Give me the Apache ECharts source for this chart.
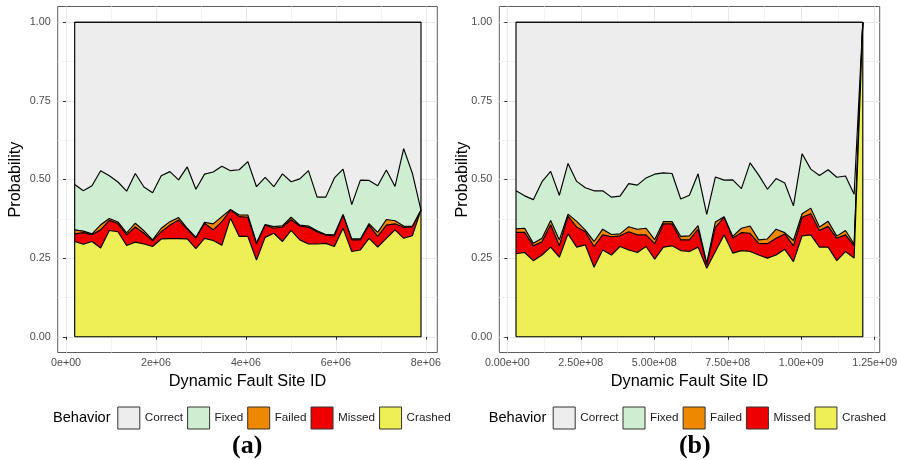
<!DOCTYPE html>
<html><head><meta charset="utf-8">
<script src="https://cdn.jsdelivr.net/npm/echarts@6/dist/echarts.min.js"></script>
<style>html,body{margin:0;padding:0;background:#fff}#c{width:897px;height:460px}</style>
</head><body><div id="c"></div>
<script>
const FONT = '"Liberation Sans", Arial, Helvetica, sans-serif';
const SERIF = '"Liberation Serif", "Times New Roman", serif';
const behaviors = ['Correct', 'Fixed', 'Failed', 'Missed', 'Crashed'];
const fills = {Correct: '#ededed', Fixed: '#cdeed0', Failed: '#ee8800', Missed: '#ee0000', Crashed: '#eeee55'};

// Panel (a)
const xA = [192500,385000,577500,770000,962500,1155000,1347500,1540000,1732500,1925000,2117500,2310000,2502500,2695000,2887500,3080000,3272500,3465000,3657500,3850000,4042500,4235000,4427500,4620000,4812500,5005000,5197500,5390000,5582500,5775000,5967500,6160000,6352500,6545000,6737500,6930000,7122500,7315000,7507500,7700000,7892500];
const crashedA = [0.303,0.294,0.303,0.282,0.338,0.334,0.290,0.301,0.295,0.287,0.311,0.312,0.312,0.311,0.280,0.313,0.306,0.291,0.377,0.319,0.319,0.244,0.316,0.329,0.303,0.338,0.308,0.295,0.295,0.297,0.287,0.345,0.271,0.276,0.313,0.285,0.313,0.340,0.313,0.321,0.403];
const missedA = [0.024,0.037,0.021,0.058,0.032,0.026,0.034,0.048,0.034,0.018,0.023,0.043,0.059,0.031,0.033,0.048,0.034,0.075,0.026,0.063,0.061,0.051,0.039,0.016,0.046,0.034,0.044,0.053,0.039,0.026,0.034,0.042,0.037,0.032,0.042,0.034,0.042,0.019,0.035,0.028,0];
const failedA = [0.013,0.005,0.003,0.016,0.006,0.005,0.006,0.012,0.008,0.003,0.011,0.011,0.008,0.003,0.003,0.003,0.019,0.016,0.002,0.005,0.007,0.004,0.002,0.005,0.004,0.008,0.003,0.004,0.003,0.002,0.005,0.002,0.003,0.003,0.005,0.013,0.018,0.010,0.004,0.002,0];
const fixedA = [0.144,0.128,0.153,0.172,0.136,0.127,0.133,0.158,0.139,0.150,0.167,0.159,0.120,0.195,0.153,0.153,0.165,0.160,0.123,0.144,0.170,0.178,0.150,0.127,0.165,0.113,0.147,0.176,0.107,0.119,0.179,0.144,0.109,0.187,0.137,0.148,0.157,0.109,0.246,0.169,0];
const correctA = [0.516,0.536,0.520,0.472,0.488,0.508,0.537,0.481,0.524,0.542,0.488,0.475,0.501,0.460,0.531,0.483,0.476,0.458,0.472,0.469,0.443,0.523,0.493,0.523,0.482,0.507,0.498,0.472,0.556,0.556,0.495,0.467,0.580,0.502,0.503,0.520,0.470,0.522,0.402,0.480,0.597];

// Panel (b)
const xB = [29500000,59000000,88500000,118000000,147500000,177000000,206500000,236000000,265500000,295000000,324500000,354000000,383500000,413000000,442500000,472000000,501500000,531000000,560500000,590000000,619500000,649000000,678500000,708000000,737500000,767000000,796500000,826000000,855500000,885000000,914500000,944000000,973500000,1003000000,1032500000,1062000000,1091500000,1121000000,1150500000,1180000000,1209500000];
const crashedB = [0.264,0.268,0.242,0.260,0.285,0.253,0.327,0.285,0.292,0.221,0.276,0.260,0.287,0.276,0.268,0.287,0.247,0.285,0.289,0.274,0.271,0.285,0.218,0.271,0.324,0.266,0.274,0.271,0.260,0.250,0.260,0.278,0.239,0.321,0.324,0.285,0.285,0.242,0.271,0.250,1.000];
const missedB = [0.068,0.064,0.047,0.042,0.071,0.036,0.057,0.064,0.042,0.066,0.048,0.058,0.034,0.058,0.056,0.037,0.049,0.074,0.070,0.034,0.037,0.057,0.011,0.077,0.056,0.048,0.057,0.058,0.037,0.046,0.053,0.049,0.050,0.059,0.067,0.053,0.066,0.071,0.053,0.039,0];
const failedB = [0.011,0.013,0.008,0.011,0.014,0.019,0.006,0.018,0.005,0.016,0.018,0.007,0.006,0.016,0.018,0.021,0.013,0.007,0.007,0.011,0.013,0.011,0.005,0.017,0.002,0.005,0.014,0.023,0.011,0.015,0.029,0.004,0.017,0.011,0.018,0.011,0.016,0.007,0.014,0.006,0];
const fixedB = [0.121,0.103,0.139,0.180,0.156,0.142,0.161,0.127,0.135,0.161,0.122,0.119,0.120,0.137,0.140,0.160,0.208,0.155,0.153,0.119,0.129,0.165,0.155,0.143,0.116,0.180,0.126,0.201,0.206,0.158,0.161,0.158,0.110,0.191,0.124,0.164,0.164,0.187,0.173,0.158,0];
const correctB = [0.536,0.552,0.564,0.507,0.474,0.550,0.449,0.506,0.526,0.536,0.536,0.556,0.553,0.513,0.518,0.495,0.483,0.479,0.481,0.562,0.550,0.482,0.611,0.492,0.502,0.501,0.529,0.447,0.486,0.531,0.497,0.511,0.584,0.418,0.467,0.487,0.469,0.493,0.489,0.547,0];

// tick labels
const yMajor = [0, 0.25, 0.5, 0.75, 1];
const yMinor = [0.125, 0.375, 0.625, 0.875];
const xMajorA = [0, 2e6, 4e6, 6e6, 8e6];
const xMinorA = [1e6, 3e6, 5e6, 7e6];
const xMajorB = [0, 2.5e8, 5e8, 7.5e8, 1e9, 1.25e9];
const xMinorB = [1.25e8, 3.75e8, 6.25e8, 8.75e8, 1.125e9];

function sci(v, d) {
  return Number(v).toExponential(d).replace(/e([+-])(\d)$/, 'e$10$2');
}

const grids = [
  {left: 57.7, top: 6.5, width: 379.6, height: 346},
  {left: 499.3, top: 6.5, width: 380.4, height: 346}
].map(g => Object.assign(g, {show: true, backgroundColor: '#fff', borderColor: '#5e5e5e', borderWidth: 1, containLabel: false, outerBoundsMode: 'none'}));

function mainX(gi, min, max, major, d) {
  return {type: 'value', gridIndex: gi, min, max, position: 'bottom',
    axisLine: {show: false},
    axisTick: {show: true, length: 3, lineStyle: {color: '#333', width: 1}, customValues: major},
    axisLabel: {customValues: major, formatter: v => sci(v, d), color: '#4d4d4d', fontSize: 10.7, fontFamily: FONT, margin: 5},
    splitLine: {show: true, lineStyle: {color: '#e8e8e8', width: 1}},
    minorTick: {show: false}, minorSplitLine: {show: false},
    name: 'Dynamic Fault Site ID', nameLocation: 'middle', nameGap: 21, nameMoveOverlap: false,
    nameTextStyle: {fontSize: 16.3, color: '#000', fontFamily: FONT}};
}
function minorX(gi, min, max, minor) {
  return {type: 'value', gridIndex: gi, min, max, position: 'top',
    axisLine: {show: false},
    axisTick: {show: false, customValues: minor},
    axisLabel: {show: false, customValues: minor},
    splitLine: {show: true, lineStyle: {color: '#f3f3f3', width: 1}}};
}
function mainY(gi, gap) {
  return {type: 'value', gridIndex: gi, min: -0.05, max: 1.05, position: 'left',
    axisLine: {show: false},
    axisTick: {show: true, length: 3, lineStyle: {color: '#333', width: 1}, customValues: yMajor},
    axisLabel: {customValues: yMajor, formatter: v => v.toFixed(2), color: '#4d4d4d', fontSize: 10.8, fontFamily: FONT, margin: 7},
    splitLine: {show: true, lineStyle: {color: '#e8e8e8', width: 1}},
    name: 'Probability', nameLocation: 'middle', nameGap: gap, nameRotate: 90, nameMoveOverlap: false,
    nameTextStyle: {fontSize: 16.3, color: '#000', fontFamily: FONT}};
}
function minorY(gi) {
  return {type: 'value', gridIndex: gi, min: -0.05, max: 1.05, position: 'right',
    axisLine: {show: false},
    axisTick: {show: false, customValues: yMinor},
    axisLabel: {show: false, customValues: yMinor},
    splitLine: {show: true, lineStyle: {color: '#f3f3f3', width: 1}}};
}

function panelSeries(xs, vals, xi, yi, stackId) {
  const order = ['Crashed', 'Missed', 'Failed', 'Fixed', 'Correct'];
  const list = order.map((name, k) => ({
    name, type: 'line', xAxisIndex: xi, yAxisIndex: yi, stack: stackId, stackStrategy: 'all',
    // rows are [probability, siteId] so that the probability is the stacked dimension
    data: xs.map((x, i) => [vals[name][i], x]),
    encode: {x: 1, y: 0},
    symbol: 'none', showSymbol: false, smooth: false,
    lineStyle: {color: '#000', width: 1.15},
    itemStyle: {color: fills[name]},
    areaStyle: {color: fills[name], opacity: 1},
    z: 10 - k, emphasis: {disabled: true}, silent: true
  }));
  const n = xs.length - 1;
  list.push({
    name: 'outline' + stackId, type: 'line', xAxisIndex: xi, yAxisIndex: yi,
    data: [[xs[0], 0], [xs[0], 1], [xs[n], 1], [xs[n], 0], [xs[0], 0]],
    symbol: 'none', lineStyle: {color: '#000', width: 1.15}, z: 12, silent: true
  });
  return list;
}

function legendFor(left) {
  return {left, top: 406.5, padding: 0, orient: 'horizontal', itemWidth: 22, itemHeight: 22, itemGap: 4,
    selectedMode: false, icon: 'rect',
    textStyle: {fontSize: 11.7, color: '#1a1a1a', fontFamily: FONT},
    data: behaviors.map(b => ({name: b, itemStyle: {color: fills[b], borderColor: '#333', borderWidth: 1}}))};
}

const option = {
  animation: false,
  backgroundColor: '#fff',
  grid: grids,
  xAxis: [mainX(0, -185000, 8255000, xMajorA, 0), minorX(0, -185000, 8255000, xMinorA),
          mainX(1, -27.3e6, 1267e6, xMajorB, 2), minorX(1, -27.3e6, 1267e6, xMinorB)],
  yAxis: [mainY(0, 34), minorY(0), mainY(1, 29), minorY(1)],
  legend: [legendFor(117.3), legendFor(552.7)],
  series: [
    ...panelSeries(xA, {Crashed: crashedA, Missed: missedA, Failed: failedA, Fixed: fixedA, Correct: correctA}, 0, 0, 'a'),
    ...panelSeries(xB, {Crashed: crashedB, Missed: missedB, Failed: failedB, Fixed: fixedB, Correct: correctB}, 2, 2, 'b')
  ],
  graphic: [
    {type: 'text', x: 53, y: 418, style: {text: 'Behavior', fontSize: 14.6, fontFamily: FONT, fill: '#000', align: 'left', verticalAlign: 'middle'}},
    {type: 'text', x: 488.7, y: 418, style: {text: 'Behavior', fontSize: 14.6, fontFamily: FONT, fill: '#000', align: 'left', verticalAlign: 'middle'}},
    {type: 'text', x: 247.2, y: 446, style: {text: '(a)', fontSize: 26, fontWeight: 'bold', fontFamily: SERIF, fill: '#000', align: 'center', verticalAlign: 'middle'}},
    {type: 'text', x: 694.8, y: 446, style: {text: '(b)', fontSize: 26, fontWeight: 'bold', fontFamily: SERIF, fill: '#000', align: 'center', verticalAlign: 'middle'}}
  ]
};
const chart = echarts.init(document.getElementById('c'));
chart.setOption(option);
</script>
</body></html>
